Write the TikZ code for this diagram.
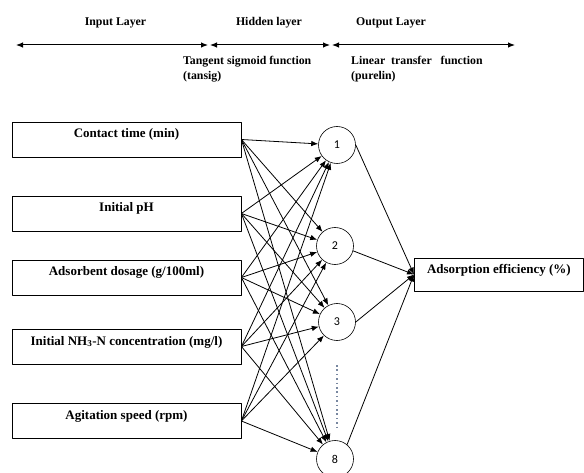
\documentclass[tikz,border=0pt]{standalone}
\usepackage{fontspec}
\setmainfont{Liberation Serif}
\newfontfamily\numfont{Carlito}
\usetikzlibrary{arrows.meta}
\definecolor{dotgray}{RGB}{120,135,160}
\begin{document}
\begin{tikzpicture}[x=1pt, y=-1pt, line join=round, >={Latex[length=7pt,width=5.5pt]},
  inbox/.style={draw, line width=0.8pt, minimum width=229pt, minimum height=35pt, inner sep=0pt,
    font=\fontsize{13}{15}\selectfont\bfseries, text height=9pt, text depth=12pt},
  neuron/.style={draw, circle, line width=0.6pt, minimum size=37pt, inner sep=0pt,
    font=\numfont\fontsize{12}{14}\selectfont},
  head/.style={font=\fontsize{11.8}{15}\selectfont\bfseries, inner sep=0pt}]
\useasboundingbox (0,0) rectangle (584,473);
% layer headings and ranges
\node[head] (tin) at (115.5,23) {Input Layer};
\node[head] (thid) at (269,23) {Hidden layer};
\node[head] (tout) at (391,23) {Output Layer};
\coordinate (l0) at (16,45); \coordinate (l1) at (208,45);
\coordinate (l2) at (210,45); \coordinate (l3) at (330,45);
\coordinate (l4) at (332,45); \coordinate (l5) at (515,45);
\draw[<->, line width=1pt] (l0) -- (l1);
\draw[<->, line width=1pt] (l2) -- (l3);
\draw[<->, line width=1pt] (l4) -- (l5);
\node[head, anchor=north west, align=left] (ftan) at (183,56) {Tangent sigmoid function\\(tansig)};
\node[head, anchor=north west, align=left] (flin) at (351,56) {Linear\ \ transfer\ \ \ function\\(purelin)};
% input layer
\node[inbox] (in1) at (126.5,139.5) {Contact time (min)};
\node[inbox] (in2) at (126.5,213.5) {Initial pH};
\node[inbox] (in3) at (126.5,277.5) {Adsorbent dosage (g/100ml)};
\node[inbox] (in4) at (126.5,346.5) {Initial NH\textsubscript{3}-N concentration (mg/l)};
\node[inbox] (in5) at (126.5,421) {Agitation speed (rpm)};
% hidden layer
\node[neuron] (h1) at (337,145) {1};
\node[neuron] (h2) at (335,246) {2};
\node[neuron] (h3) at (337,322) {3};
\node[neuron] (h8) at (335,459) {8};
\coordinate (d0) at (337,365); \coordinate (d1) at (337,428);
\draw[dotgray, line width=1.6pt, dash pattern=on 1.6pt off 2.8pt] (d0) -- (d1);
% output layer
\node[draw, line width=0.8pt, anchor=west, minimum width=169pt, minimum height=33pt, inner sep=0pt,
  font=\fontsize{13}{15}\selectfont\bfseries, text height=9pt, text depth=12pt] (out) at (414,274.5) {Adsorption efficiency (\%)};
% connections
\foreach \i in {1,...,5}
  \foreach \j in {1,2,3,8}
    \draw[->, line width=0.8pt] (in\i.east) -- (h\j);
\draw[->, line width=0.8pt] (h1.east) -- (out.west);
\draw[->, line width=0.8pt] (h2.-15) -- (out.west);
\draw[->, line width=0.8pt] (h3.east) -- (out.west);
\draw[->, line width=0.8pt] (h8.50) -- (out.west);
\end{tikzpicture}
\end{document}
